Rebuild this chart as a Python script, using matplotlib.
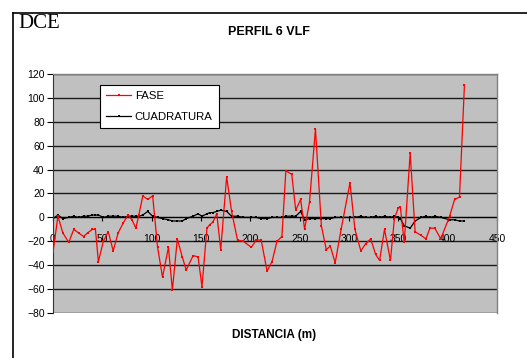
import matplotlib
matplotlib.use("Agg")
import matplotlib.pyplot as plt
from matplotlib.lines import Line2D

# distancia (m) y lecturas VLF del perfil 6
distancia = [0, 5, 10, 16, 21, 26, 31, 35, 40, 43, 46, 51, 56, 61, 66, 71, 76, 80, 84, 87,
             91, 96, 101, 106, 111, 117, 121, 126, 131, 135, 142, 147, 151, 156, 159, 162, 166, 170, 176, 181,
             187, 193, 201, 206, 211, 217, 222, 227, 232, 236, 242, 246, 251, 255, 260, 266, 272, 277, 281, 286,
             292, 301, 306, 312, 317, 322, 327, 331, 336, 342, 346, 350, 352, 356, 362, 367, 373, 378, 382, 387,
             393, 402, 407, 412, 417]
fase = [-29, 1, -13, -21, -10, -13, -16, -13, -10, -10, -37, -20, -12, -28, -13, -5, 2, -2, -9, 2,
        18, 15, 18, -25, -50, -25, -61, -18, -33, -44, -32, -33, -58, -9, -6, -4, 3, -27, 34, 5,
        -19, -20, -25, -19, -19, -45, -37, -20, -16, 39, 36, 6, 15, -10, 13, 74, -7, -27, -24, -38,
        -10, 29, -10, -28, -22, -18, -31, -36, -10, -36, -1, 8, 9, -21, 54, -12, -15, -18, -9, -9,
        -18, 1, 15, 17, 111]
cuadratura = [-1, 2, -1, 0, 1, 0, 1, 1, 2, 2, 2, 0, 1, 1, 1, 0, 1, 1, 1, 1,
              2, 5, 1, 0, -1, -2, -3, -3, -3, -1, 1, 3, 1, 3, 4, 4, 5, 6, 5, 1,
              1, 0, 0, 0, -1, -1, 0, 0, 0, 1, 1, 1, 5, -2, -1, -1, -1, -1, -1, 0,
              0, 0, 0, 1, 0, 0, 1, 0, 1, 0, 1, 0, -1, -7, -9, -3, 0, 1, 0, 1,
              0, -2, -2, -3, -3]

x_ticks = [0, 50, 100, 150, 200, 250, 300, 350, 400, 450]
y_ticks = [-80, -60, -40, -20, 0, 20, 40, 60, 80, 100, 120]

plt.rcParams["font.family"] = ["Liberation Sans", "DejaVu Sans"]

W, H = 527, 358
fig = plt.figure(figsize=(W / 100, H / 100), dpi=100)
fig.patch.set_facecolor("white")

# marco exterior del grafico (solo se ven los bordes izquierdo y superior)
fx, fy = 12.5 / W, 1 - 12.5 / H
fig.add_artist(Line2D([fx, 1.0], [fy, fy], transform=fig.transFigure, color="black", linewidth=1.2))
fig.add_artist(Line2D([fx, fx], [0.0, fy], transform=fig.transFigure, color="black", linewidth=1.2))

ax = fig.add_axes([53 / W, 1 - 313 / H, 444 / W, 239 / H])
ax.set_facecolor("#C0C0C0")
ax.set_xlim(0, 450)
ax.set_ylim(-80, 120)

for y in y_ticks:
    ax.axhline(y, color="#1a1a1a", linewidth=1.0, zorder=1)

ax.plot(distancia, fase, color="#FF0000", linewidth=0.9, marker="s", markersize=2,
        markeredgewidth=0, label="FASE", zorder=3)
ax.plot(distancia, cuadratura, color="black", linewidth=0.9, marker="s", markersize=2,
        markeredgewidth=0, label="CUADRATURA", zorder=2)

for side in ("top", "right"):
    ax.spines[side].set_color("#808080")
    ax.spines[side].set_linewidth(1.0)
ax.spines["left"].set_color("#333333")
ax.spines["bottom"].set_position(("data", 0))
ax.spines["bottom"].set_color("black")
ax.spines["bottom"].set_zorder(1)

ax.set_xticks(x_ticks)
ax.set_yticks(y_ticks)
ax.tick_params(axis="y", direction="out", length=4, width=0.8, pad=2, labelsize=7.5)
ax.tick_params(axis="x", direction="out", length=3, width=0.8, pad=9, labelsize=7.5)

fig.text(18 / W, 1 - 23 / H, "DCE", family="Liberation Serif", fontsize=15, va="center", ha="left")
fig.text(269 / W, 1 - 32 / H, "PERFIL 6 VLF", fontsize=9, fontweight="bold", ha="center", va="center")
fig.text(274 / W, 1 - 335 / H, "DISTANCIA (m)", fontsize=8.5, fontweight="bold", ha="center", va="center")

leg = ax.legend(loc="upper left", bbox_to_anchor=((100 - 53) / 444, (313 - 85) / 239),
                fontsize=8.2, frameon=True, fancybox=False, framealpha=1, edgecolor="black",
                borderpad=0.55, handlelength=2.2, handletextpad=0.3, labelspacing=0.9,
                markerscale=0.8, borderaxespad=0)
leg.get_frame().set_linewidth(0.8)

fig.savefig("out.png", dpi=100)
